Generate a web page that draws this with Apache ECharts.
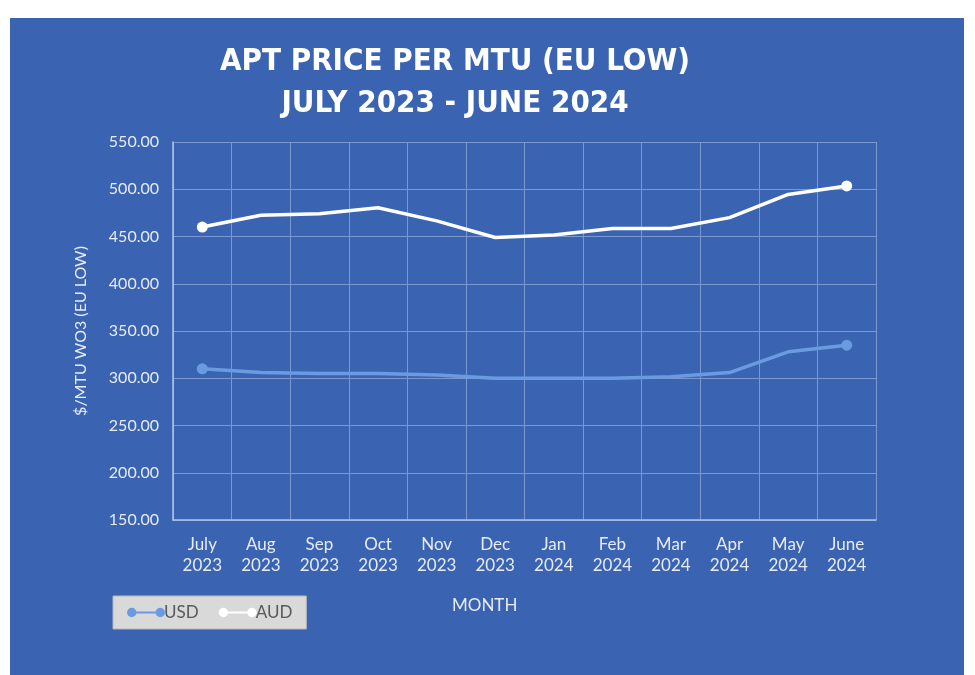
<!DOCTYPE html>
<html>
<head>
<meta charset="utf-8">
<script src="https://cdn.jsdelivr.net/npm/echarts@6/dist/echarts.min.js"></script>
<style>
  html, body { margin: 0; padding: 0; background: #ffffff; }
  #chart { width: 975px; height: 675px; }
</style>
</head>
<body>
<div id="chart"></div>
<script>
// months (two line labels)
var months = ['July\n2023', 'Aug\n2023', 'Sep\n2023', 'Oct\n2023', 'Nov\n2023', 'Dec\n2023',
              'Jan\n2024', 'Feb\n2024', 'Mar\n2024', 'Apr\n2024', 'May\n2024', 'June\n2024'];
// $/MTU WO3
var usd = [310, 306, 305, 305, 303.5, 300, 300, 300, 301.5, 306, 328, 335];
var aud = [460, 472.5, 474, 480.5, 466.5, 449, 451.5, 458.5, 458.5, 470, 494.5, 503.5];
var yTicks = [150, 550, 50]; // min, max, step

var font = 'Lato, "DejaVu Sans", sans-serif';
var legendIcon = 'path://M0,5 A5,5 0 1,1 10,5 A5,5 0 1,1 0,5 Z M9,4 L31,4 L31,6 L9,6 Z M30,5 A5,5 0 1,1 40,5 A5,5 0 1,1 30,5 Z';

// marker only at the first and the last month
function endMarks(arr) {
    return arr.map(function (v, i) {
        if (i == 0 || i == arr.length - 1) {
            return { value: v, symbol: 'circle', symbolSize: 11 };
        }
        return v;
    });
}

var myChart = echarts.init(document.getElementById('chart'));
var option = {
    backgroundColor: '#ffffff',
    animation: false,
    graphic: [
        {
            type: 'rect',
            z: -10,
            shape: { x: 10, y: 18, width: 954, height: 660 },
            style: { fill: '#3a64b1' }
        },
        {
            type: 'text',
            left: 452,
            top: 597,
            style: { text: 'MONTH', fill: '#e6ebf5', fontSize: 17, fontFamily: font }
        }
    ],
    title: {
        text: 'APT PRICE PER MTU (EU LOW)\nJULY 2023 - JUNE 2024',
        left: 450,
        top: 36,
        textAlign: 'center',
        textStyle: {
            color: '#ffffff',
            fontSize: 31,
            fontWeight: 'bold',
            fontFamily: '"Liberation Sans Narrow", "DejaVu Sans Condensed", "DejaVu Sans", sans-serif',
            lineHeight: 42
        }
    },
    legend: {
        left: 113,
        top: 596,
        width: 186,
        height: 31,
        padding: [8, 14, 8, 14],
        backgroundColor: '#d9d9d9',
        borderColor: '#b8b8b8',
        borderWidth: 1,
        itemWidth: 38,
        itemHeight: 10,
        itemGap: 20,
        icon: legendIcon,
        textStyle: { color: '#595959', fontSize: 17, fontFamily: font, padding: [0, 0, 0, -6] },
        data: ['USD', 'AUD']
    },
    grid: {
        left: 173,
        right: 99,
        top: 142,
        bottom: 155
    },
    xAxis: {
        type: 'category',
        data: months,
        boundaryGap: true,
        axisLine: { lineStyle: { color: '#b3c4e6', width: 1.5 } },
        axisTick: { show: false },
        axisLabel: {
            color: '#e6ebf5',
            fontSize: 17,
            fontFamily: font,
            lineHeight: 21,
            margin: 14
        },
        splitLine: { show: true, lineStyle: { color: '#7b98d1', width: 1 } }
    },
    yAxis: {
        type: 'value',
        min: yTicks[0],
        max: yTicks[1],
        interval: yTicks[2],
        name: '$/MTU WO3 (EU LOW)',
        nameLocation: 'middle',
        nameGap: 84,
        nameTextStyle: { color: '#e6ebf5', fontSize: 16, fontFamily: font },
        axisLine: { show: true, lineStyle: { color: '#b3c4e6', width: 1.5 } },
        axisTick: { show: false },
        axisLabel: {
            color: '#e6ebf5',
            fontSize: 16,
            fontFamily: font,
            margin: 14,
            formatter: function (v) { return v.toFixed(2); }
        },
        splitLine: { lineStyle: { color: '#7b98d1', width: 1 } }
    },
    series: [
        {
            name: 'USD',
            type: 'line',
            symbol: 'none',
            data: endMarks(usd),
            lineStyle: { color: '#6a9be0', width: 3.5 },
            itemStyle: { color: '#6a9be0' }
        },
        {
            name: 'AUD',
            type: 'line',
            symbol: 'none',
            data: endMarks(aud),
            lineStyle: { color: '#ffffff', width: 3.5 },
            itemStyle: { color: '#ffffff' }
        }
    ]
};
myChart.setOption(option);
</script>
</body>
</html>
